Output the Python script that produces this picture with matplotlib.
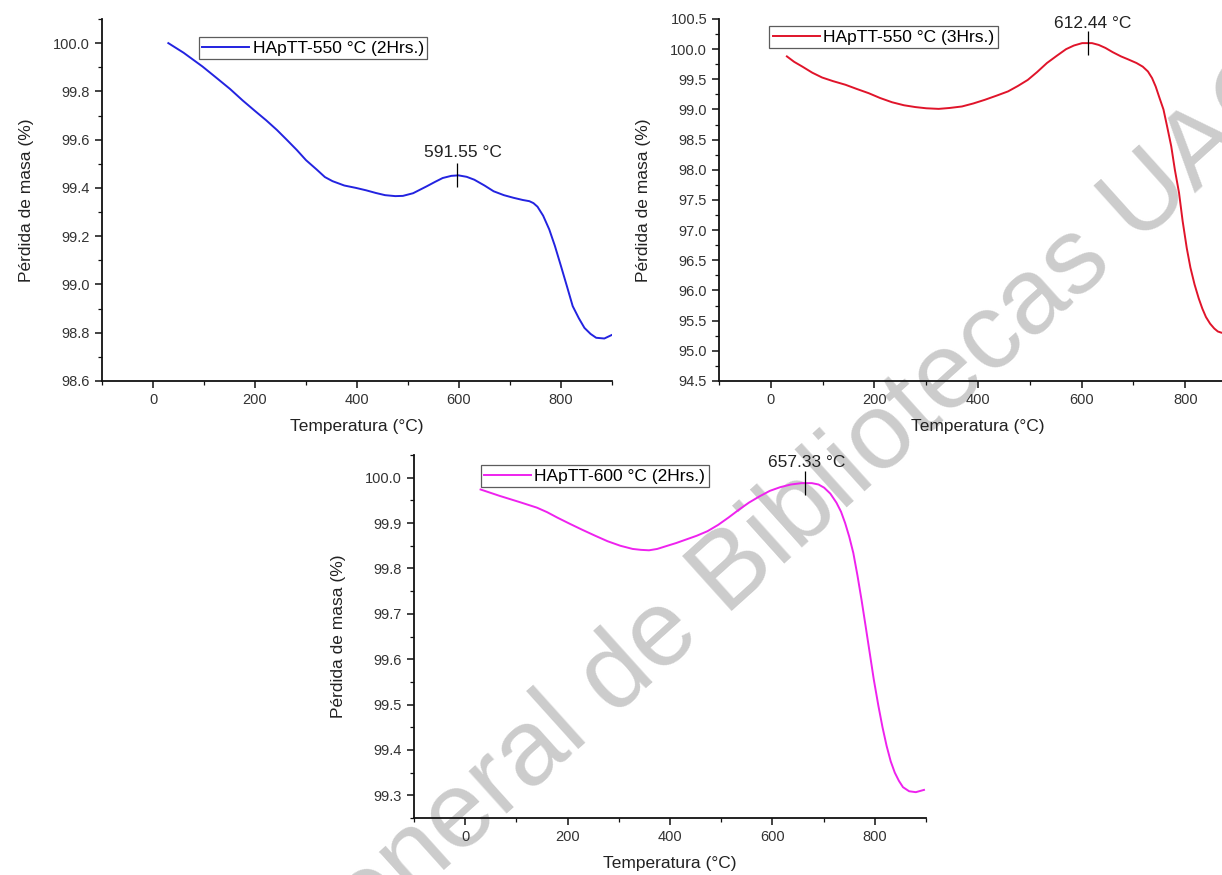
import matplotlib
matplotlib.use("Agg")
import matplotlib.pyplot as plt
from matplotlib.ticker import MultipleLocator

plt.rcParams['font.family'] = ['Liberation Sans', 'DejaVu Sans']

# HApTT-550 °C (2Hrs.)
temp_a = [30, 60, 97, 125, 151, 176, 201, 222, 243, 262, 282, 300, 321, 337, 352, 375,
          398, 418, 437, 455, 475, 490, 510, 537, 553, 568, 585, 599, 615, 630, 650,
          668, 688, 707, 725, 738, 746, 754, 765, 777, 788, 800, 812, 823, 835, 846,
          858, 869, 885, 899]
masa_a = [100.0, 99.96, 99.903, 99.855, 99.81, 99.762, 99.717, 99.68, 99.64, 99.6,
          99.557, 99.515, 99.476, 99.445, 99.428, 99.41, 99.40, 99.39, 99.379, 99.37,
          99.366, 99.367, 99.378, 99.407, 99.425, 99.441, 99.45, 99.452, 99.446,
          99.434, 99.41, 99.386, 99.37, 99.359, 99.35, 99.345, 99.337, 99.322, 99.285,
          99.228, 99.16, 99.076, 98.99, 98.91, 98.86, 98.82, 98.795, 98.779, 98.776,
          98.79]

# HApTT-550 °C (3Hrs.)
temp_b = [31, 45, 61, 80, 99, 120, 144, 166, 189, 211, 234, 257, 279, 300, 324, 345,
          369, 391, 413, 436, 458, 477, 496, 514, 533, 552, 570, 585, 601, 620, 633,
          646, 660, 676, 690, 706, 718, 728, 736, 743, 750, 758, 765, 773, 780, 788,
          795, 803, 810, 818, 826, 833, 840, 848, 856, 863, 870, 878, 889, 900]
masa_b = [99.88, 99.79, 99.71, 99.61, 99.53, 99.47, 99.41, 99.34, 99.27, 99.19, 99.12,
          99.07, 99.04, 99.02, 99.01, 99.025, 99.05, 99.1, 99.16, 99.23, 99.30, 99.39,
          99.49, 99.62, 99.77, 99.89, 100.0, 100.06, 100.1, 100.1, 100.07, 100.02,
          99.95, 99.88, 99.83, 99.77, 99.71, 99.63, 99.52, 99.38, 99.2, 99.0, 98.72,
          98.39, 98.0, 97.62, 97.15, 96.7, 96.38, 96.1, 95.87, 95.7, 95.56, 95.45,
          95.37, 95.32, 95.3, 95.29, 95.3, 95.33]

# HApTT-600 °C (2Hrs.)
temp_c = [30, 67, 107, 140, 160, 180, 205, 229, 254, 278, 303, 327, 343, 359, 375, 392,
          412, 432, 452, 473, 494, 514, 534, 554, 575, 595, 615, 636, 657, 677, 690,
          701, 713, 725, 734, 742, 750, 758, 766, 774, 782, 790, 798, 807, 815, 823,
          831, 839, 847, 855, 867, 880, 896]
masa_c = [99.974, 99.96, 99.946, 99.934, 99.924, 99.912, 99.898, 99.885, 99.872, 99.86,
          99.85, 99.843, 99.841, 99.84, 99.843, 99.849, 99.856, 99.864, 99.872, 99.882,
          99.896, 99.912, 99.929, 99.945, 99.959, 99.971, 99.979, 99.985, 99.988,
          99.988, 99.985, 99.978, 99.965, 99.945, 99.925, 99.90, 99.87, 99.834, 99.785,
          99.731, 99.673, 99.614, 99.555, 99.497, 99.45, 99.409, 99.375, 99.35, 99.332,
          99.318, 99.309, 99.307, 99.312]

etiquetas = ['HApTT-550 °C (2Hrs.)', 'HApTT-550 °C (3Hrs.)', 'HApTT-600 °C (2Hrs.)']
picos_x = [597, 613, 663]
picos_y = [99.452, 100.1, 99.988]
picos_texto = ['591.55 °C', '612.44 °C', '657.33 °C']

fig = plt.figure(figsize=(12.22, 8.75), dpi=100)

fig.text(0.50, 0.22, 'Dirección General de Bibliotecas UAQ', fontsize=78,
         color='#cccccc', rotation=42, ha='center', va='center',
         rotation_mode='anchor', zorder=-1)

posiciones = [
    [0.0835, 0.5646, 0.4173, 0.4137],
    [0.5884, 0.5646, 0.4239, 0.4137],
    [0.3388, 0.0651, 0.4190, 0.4149],
]
datos = [(temp_a, masa_a), (temp_b, masa_b), (temp_c, masa_c)]
colores = ['#2323e0', '#e0142a', '#ee22ee']
limites_y = [(98.6, 100.1), (94.5, 100.5), (99.25, 100.05)]
paso_y = [0.2, 0.5, 0.1]
menor_y = [0.1, 0.25, 0.05]
texto_y = [99.545, 100.43, 100.033]
texto_x = [607, 622, 667]
leyenda_pos = [(0.19, 0.95), (0.097, 0.98), (0.13, 0.972)]

for i in range(3):
    ax = fig.add_axes(posiciones[i])
    ax.patch.set_alpha(0)
    x, y = datos[i]
    ax.plot(x, y, color=colores[i], lw=1.4, label=etiquetas[i])
    ax.plot([picos_x[i]], [picos_y[i]], marker='|', color='black', ms=17, mew=0.9)
    ax.text(texto_x[i], texto_y[i], picos_texto[i], ha='center', va='center',
            fontsize=12.5, color='#222222')
    ax.set_xlim(-100, 900)
    ax.set_ylim(*limites_y[i])
    ax.xaxis.set_major_locator(MultipleLocator(200))
    ax.xaxis.set_minor_locator(MultipleLocator(100))
    ax.yaxis.set_major_locator(MultipleLocator(paso_y[i]))
    ax.yaxis.set_minor_locator(MultipleLocator(menor_y[i]))
    if i == 1:
        ax.set_yticks([94.5 + 0.5 * k for k in range(13)])
        ax.set_yticklabels(['%.1f' % (94.5 + 0.5 * k) for k in range(13)])
    ax.spines['top'].set_visible(False)
    ax.spines['right'].set_visible(False)
    for s in ['left', 'bottom']:
        ax.spines[s].set_linewidth(1.3)
        ax.spines[s].set_color('#111111')
    ax.tick_params(which='major', direction='out', length=5, width=1.1,
                   labelsize=10.5, colors='#111111', labelcolor='#333333')
    ax.tick_params(which='minor', direction='out', length=3, width=0.9, colors='#111111')
    ax.set_xlabel('Temperatura (°C)', fontsize=12.5, color='#222222', labelpad=9)
    ax.set_ylabel('Pérdida de masa (%)', fontsize=12.5, color='#222222', labelpad=14)
    leg = ax.legend(loc='upper left', bbox_to_anchor=leyenda_pos[i], fontsize=12.5,
                    frameon=True, fancybox=False, handlelength=2.7, borderpad=0.2,
                    handletextpad=0.2, borderaxespad=0)
    leg.get_frame().set_edgecolor('#333333')
    leg.get_frame().set_linewidth(0.9)

fig.savefig('out.png', dpi=100)
